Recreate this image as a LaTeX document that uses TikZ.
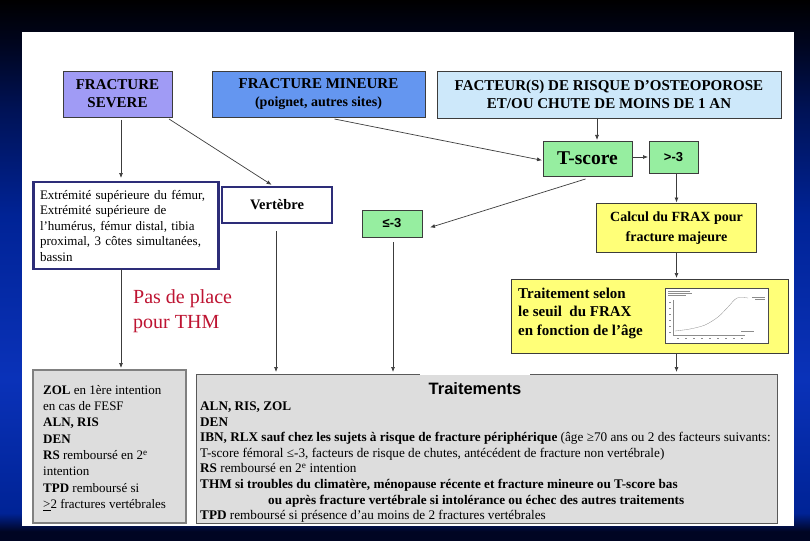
\documentclass[tikz,border=0pt]{standalone}
\usepackage{fontspec}
\setmainfont{Liberation Serif}
\newfontfamily\arialf{Liberation Sans}
\usetikzlibrary{arrows.meta,calc}
\definecolor{bgA}{RGB}{0,5,35}
\definecolor{bgB}{RGB}{0,35,150}
\definecolor{bgC}{RGB}{10,50,185}
\definecolor{bgD}{RGB}{0,35,150}
\definecolor{bgF}{RGB}{0,18,85}
\definecolor{bgE}{RGB}{0,5,30}
\definecolor{sevfill}{RGB}{160,155,245}
\definecolor{minfill}{RGB}{100,150,240}
\definecolor{facfill}{RGB}{205,232,250}
\definecolor{grfill}{RGB}{150,238,160}
\definecolor{yefill}{RGB}{255,255,120}
\definecolor{gyfill}{RGB}{221,221,221}
\definecolor{navy}{RGB}{45,45,120}
\definecolor{redtxt}{RGB}{190,20,50}
\definecolor{linec}{RGB}{60,60,60}
\pgfdeclareverticalshading{bgshade}{100bp}{color(0bp)=(bgA); color(25bp)=(bgA); color(25.8bp)=(bgA); color(27.5bp)=(bgB); color(40bp)=(bgC); color(55bp)=(bgD); color(65bp)=(bgF); color(71bp)=(bgE); color(75bp)=(black); color(100bp)=(black)}
\newcommand{\fs}[2]{\fontsize{#1}{#2}\selectfont}
\begin{document}
\begin{tikzpicture}[x=1pt,y=-1pt,
  box/.style={rectangle, inner sep=0pt, outer sep=0pt, draw=linec, line width=0.8pt},
  topbox/.style={box, font=\bfseries\fs{15}{18}, align=center},
  grbox/.style={box, fill=grfill, font=\bfseries},
  yebox/.style={box, fill=yefill, font=\bfseries},
  navybox/.style={box, draw=navy, line width=2.6pt, fill=white},
  arr/.style={draw=linec, line width=0.7pt, -{Latex[length=5pt,width=4pt]}},
  ln/.style={draw=linec, line width=0.7pt}]
\useasboundingbox (0,0) rectangle (810,540);
\shade[shading=bgshade] (0,0) rectangle (810,540);
\fill[white] (22,32) rectangle (794,526);

% top row
\node[topbox, fill=sevfill, minimum width=109pt, minimum height=46pt] (sev) at (117.5,94) {FRACTURE\\SEVERE};
\node[topbox, fill=minfill, minimum width=213pt, minimum height=46pt] (min) at (318.5,94) {FRACTURE MINEURE\\{\fs{14}{18}(poignet, autres sites)}};
\node[topbox, fill=facfill, minimum width=344pt, minimum height=47pt] (fac) at (609,94.5) {FACTEUR(S) DE RISQUE D’OSTEOPOROSE\\ET/OU CHUTE DE MOINS DE 1 AN};

% green boxes
\node[grbox, minimum width=89pt, minimum height=35pt, font=\bfseries\fs{19.5}{20}] (ts) at (587.5,158.5) {T-score};
\node[grbox, minimum width=49pt, minimum height=32pt, font=\arialf\bfseries\fs{13}{14}] (gt) at (673.5,157) {>-3};
\node[grbox, minimum width=60pt, minimum height=27pt, font=\arialf\bfseries\fs{13}{14}] (le) at (392,223.5) {≤-3};

% navy boxes
\node[navybox, minimum width=185pt, minimum height=87pt, text width=172pt, align=left, font=\fs{13}{15.5}] (ext) at (126,225.5) {Extrémité supérieure du fémur,\\Extrémité supérieure de\\l’humérus, fémur distal, tibia\\proximal, 3 côtes simultanées,\\bassin};
\node[navybox, minimum width=110pt, minimum height=36pt, font=\bfseries\fs{14.5}{16}] (vert) at (277,205) {Vertèbre};

% yellow boxes
\node[yebox, minimum width=160pt, minimum height=49pt, align=center, font=\bfseries\fs{14}{20}] (calc) at (676.5,228) {Calcul du FRAX pour\\fracture majeure};
\node[yebox, minimum width=277pt, minimum height=74pt] (sel) at (649.5,316) {};
\node[anchor=west, align=left, font=\bfseries\fs{15}{18.5}, inner sep=0pt] (seltxt) at (518,313) {Traitement selon\\le seuil\ \ du FRAX\\en fonction de l’âge};

% chart
\draw[fill=white, draw=black!70, line width=0.5pt] (665,288) rectangle (768,343);
\begin{scope}[draw=black!45, line width=0.3pt]
\draw (668,291.5)--(690,291.5) (668,293.5)--(692,293.5) (668,295.5)--(686,295.5);
\draw (673,300)--(673,335)--(745,335);
\foreach \yy in {302,308,314,320,326,332} \draw (669,\yy)--(671,\yy);
\foreach \xx in {677,685,693,701,709,717,725,733,741} \draw (\xx,338.5)--(\xx+2,338.5);
\draw plot[smooth] coordinates {(675,331)(690,329)(705,325)(718,317)(728,307)(737,298)(748,298)};
\draw (752,297)--(765,297) (755,299.5)--(765,299.5);
\draw (741,331)--(754,331);
\end{scope}

% red note
\node[anchor=north west, align=left, text=redtxt, font=\fs{20}{25}, inner sep=0pt] (note) at (133,289) {Pas de place\\pour THM};

% gray boxes
\node[box, draw=black!50, line width=2.6pt, fill=gyfill, minimum width=153pt, minimum height=153pt] (zol) at (109.5,446.5) {};
\node[anchor=north west, align=left, font=\fs{13}{16.3}, inner sep=0pt] (zoltxt) at (43,385) {\textbf{ZOL} en 1ère intention\\en cas de FESF\\\textbf{ALN, RIS}\\\textbf{DEN}\\\textbf{RS} remboursé en 2\textsuperscript{e}\\intention\\\textbf{TPD} remboursé si\\\underline{>}2 fractures vertébrales};

\node[box, draw=black!65, line width=0.8pt, fill=gyfill, minimum width=581pt, minimum height=149pt] (trt) at (486.5,448.5) {};
\fill[white] (420,370.5) rectangle (530,374.6);
\node[font=\arialf\bfseries\fs{16.5}{18}, inner sep=0pt] (trtt) at (475,388.5) {Traitements};
\node[anchor=north west, align=left, font=\fs{13.2}{15.6}, inner sep=0pt] (trtb) at (200,401.5) {\textbf{ALN, RIS, ZOL}\\\textbf{DEN}\\\textbf{IBN, RLX sauf chez les sujets à risque de fracture périphérique} (âge ≥70 ans ou 2 des facteurs suivants:\\T-score fémoral ≤-3, facteurs de risque de chutes, antécédent de fracture non vertébrale)\\\textbf{RS} remboursé en 2\textsuperscript{e} intention\\\textbf{THM si troubles du climatère, ménopause récente et fracture mineure ou T-score bas}\\\hspace*{68pt}\textbf{ou après fracture vertébrale si intolérance ou échec des autres traitements}\\\textbf{TPD} remboursé si présence d’au moins de 2 fractures vertébrales};

% connectors
\draw[arr, shorten <=3pt, shorten >=4pt] ([xshift=3.5pt]sev.south) -- ([xshift=3.5pt]sev.south |- ext.north);
\draw[arr, shorten >=4pt] ($(sev.south east)+(-3,2)$) -- ($(vert.north)+(-2,0)$);
\draw[arr, shorten >=1pt] ($(min.south)+(16,2)$) -- ($(ts.west)+(0,2)$);
\draw[arr, shorten >=1pt] ([xshift=9.5pt]ts.north |- fac.south) -- ([xshift=9.5pt]ts.north);
\draw[arr, shorten <=1pt, shorten >=1pt] (ts.east |- gt.west) -- (gt.west);
\draw[arr, shorten >=1pt] (calc.north |- gt.south) -- (calc.north);
\draw[arr, shorten >=0pt] ($(ts.south)+(-2,3)$) -- ($(le.east)+(8,4)$);
\draw[arr, shorten >=1pt] (calc.south) -- (calc.south |- sel.north);
\draw[arr, shorten >=2pt] ([xshift=-5pt]ext.south) -- ([xshift=-5pt]ext.south |- zol.north);
\draw[arr, shorten <=8pt, shorten >=2pt] ([xshift=-1pt]vert.south) -- ([xshift=-1pt]vert.south |- trt.north);
\draw[arr, shorten <=5pt, shorten >=2pt] ([xshift=1pt]le.south) -- ([xshift=1pt]le.south |- trt.north);
\draw[arr, shorten >=2pt] (calc.south |- sel.south) -- (calc.south |- trt.north);
\end{tikzpicture}
\end{document}
